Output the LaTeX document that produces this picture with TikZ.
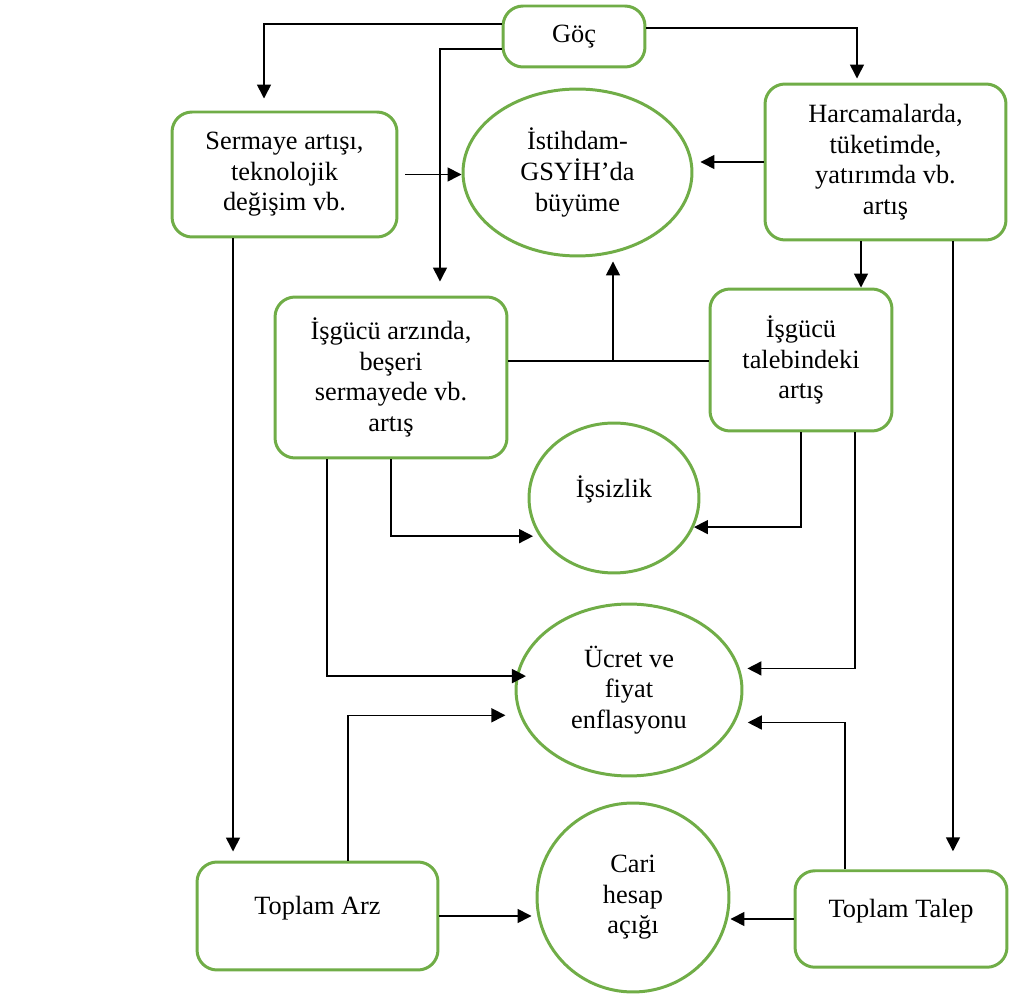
\documentclass[tikz,border=0pt]{standalone}
\usepackage{fontspec}
\setmainfont{Liberation Serif}
\usepackage{xcolor}
\usetikzlibrary{arrows.meta,shapes.geometric}
\definecolor{boxgreen}{RGB}{112,173,71}
\tikzset{
  box/.style={draw=boxgreen, line width=1.7pt, rounded corners=0.4cm, align=center, fill=white,
    font=\fontsize{15}{17.4}\selectfont},
  oval/.style={draw=boxgreen, line width=1.7pt, ellipse, inner sep=0pt, align=center, fill=white,
    font=\fontsize{15}{17.4}\selectfont},
  conn/.style={line width=0.9pt, -{Triangle[length=0.28cm,width=0.28cm]}},
  plain/.style={line width=0.9pt}
}

\begin{document}
\begin{tikzpicture}[x=0.02cm, y=-0.02cm]
   % \draw[step=1,gray,very thin] (0,0) grid (1009,996);
   \useasboundingbox (0,0) rectangle (1009,996);
    \node[box, minimum width=2.84cm, minimum height=1.22cm] (goc) at (574,36.5) {Göç};
    \node[box, minimum width=4.5cm, minimum height=2.5cm] (sermaye) at (284.5,174.5) {Sermaye artışı,\\teknolojik\\değişim vb.};
    \node[oval, minimum width=4.58cm, minimum height=3.34cm] (istihdam) at (577.5,172.5) {İstihdam-\\GSYİH’da\\büyüme};
    \node[box, minimum width=4.82cm, minimum height=3.12cm] (harcama) at (885.5,162) {Harcamalarda,\\tüketimde,\\yatırımda vb.\\artış};
    \node[box, minimum width=4.64cm, minimum height=3.22cm] (arz) at (391,377.5) {İşgücü arzında,\\beşeri\\sermayede vb.\\artış};
    \node[box, minimum width=3.64cm, minimum height=2.84cm] (talep) at (801,360) {İşgücü\\talebindeki\\artış};
    \node[oval, minimum width=3.4cm, minimum height=3cm, text depth=0.44cm] (issizlik) at (614,498) {İşsizlik};
    \node[oval, minimum width=4.52cm, minimum height=3.44cm] (ucret) at (629,690) {Ücret ve\\fiyat\\enflasyonu};
    \node[oval, minimum width=3.84cm, minimum height=3.78cm] (cari) at (633,897.5) {Cari\\hesap\\açığı};
    \node[box, minimum width=4.82cm, minimum height=2.16cm, text depth=0.44cm] (toplamarz) at (317.5,916) {Toplam Arz};
    \node[box, minimum width=4.24cm, minimum height=1.93cm, text depth=0.44cm] (toplamtalep) at (901,919) {Toplam Talep};

    \draw[conn, shorten >=0.24cm] ([yshift=0.25cm]goc.west) -| ([xshift=-0.41cm]sermaye.north);
    \draw[conn, shorten >=0.28cm] ([yshift=-0.25cm]goc.west) -| ([xshift=0.98cm]arz.north);
    \draw[conn, shorten >=0.08cm] ([yshift=0.17cm]goc.east) -| ([xshift=-0.57cm]harcama.north);
    \draw[conn, shorten <=0.14cm] (sermaye.east) -- (sermaye.east -| istihdam.west);
    \draw[conn, shorten >=0.14cm] (harcama.west) -- (harcama.west -| istihdam.east);
    \draw[conn] ([xshift=-0.49cm]harcama.south) -- ([xshift=-0.49cm]harcama.south |- talep.north);

    \draw[plain] ([yshift=0.33cm]arz.east) -- ([yshift=0.33cm]arz.east -| talep.west);
    \coordinate (jn) at (613,361);
    \draw[conn, shorten >=0.08cm] (jn) -- (jn |- istihdam.south);

    \draw[conn, shorten >=0.12cm] (arz.south) |- (issizlik.207);
    \draw[conn] (talep.south) |- (issizlik.-20);
    \draw[conn, shorten >=-0.2cm] ([xshift=-1.28cm]arz.south) |- (ucret.173);
    \draw[conn, shorten >=0.15cm] ([xshift=1.08cm]talep.south) |- (ucret.11);
    \draw[conn, shorten >=0.28cm] ([xshift=0.61cm]toplamarz.north) |- (ucret.193);
    \draw[conn, shorten >=0.25cm] ([xshift=-1.12cm]toplamtalep.north) |- (ucret.-17.5);

    \draw[conn, shorten >=0.18cm] ([xshift=-1.03cm]sermaye.south) -- ([xshift=-1.03cm]sermaye.south |- toplamarz.north);
    \draw[conn, shorten >=0.36cm] ([xshift=1.35cm]harcama.south) -- ([xshift=1.35cm]harcama.south |- toplamtalep.north);
    \draw[conn, shorten >=0.08cm] (toplamarz.east) -- (toplamarz.east -| cari.west);
    \draw[conn] (toplamtalep.west) -- (toplamtalep.west -| cari.east);
\end{tikzpicture}
\end{document}
